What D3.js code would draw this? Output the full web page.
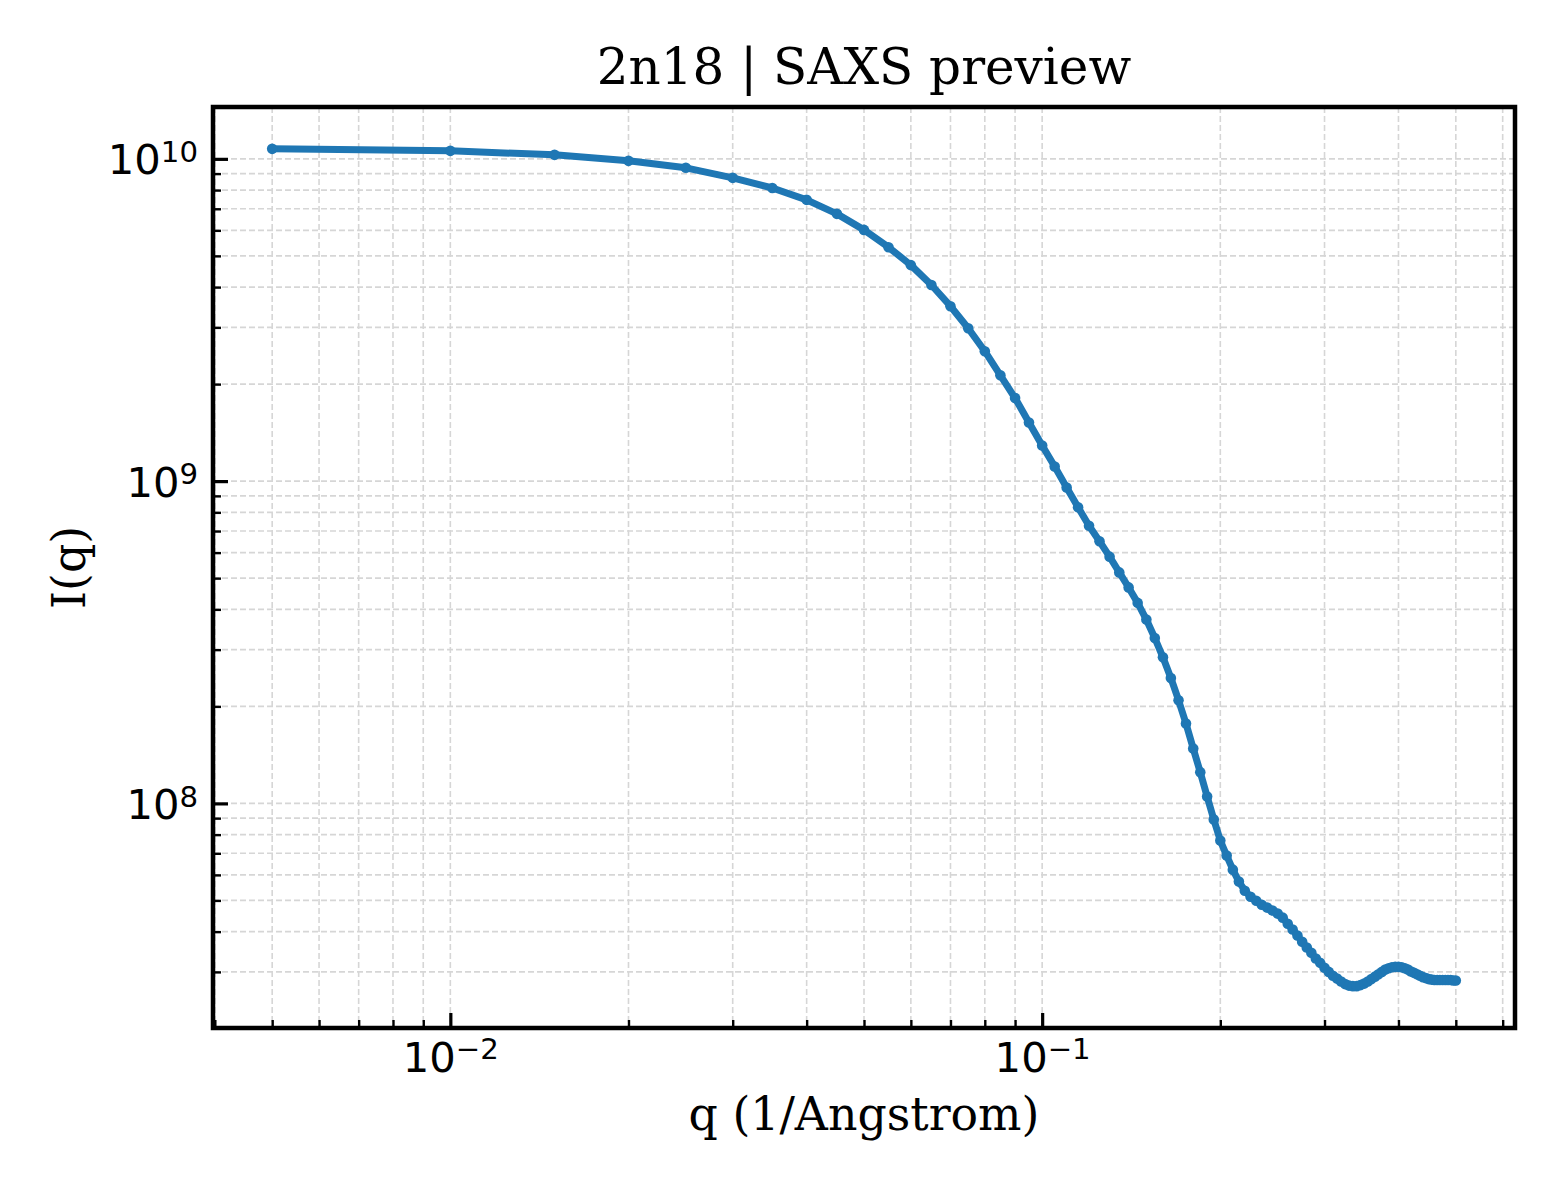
<!DOCTYPE html>
<html>
<head>
<meta charset="utf-8">
<script src="https://cdn.jsdelivr.net/npm/d3@7"></script>
<style>
  html, body { margin: 0; padding: 0; background: #fff; }
  svg { display: block; }
</style>
</head>
<body>
<svg id="chart"></svg>
<script>
// scattering vector (1/Angstrom)
const qValues = [
  0.005, 0.010, 0.015, 0.020, 0.025, 0.030, 0.035, 0.040, 0.045, 0.050,
  0.055, 0.060, 0.065, 0.070, 0.075, 0.080, 0.085, 0.090, 0.095, 0.100,
  0.105, 0.110, 0.115, 0.120, 0.125, 0.130, 0.135, 0.140, 0.145, 0.150,
  0.155, 0.160, 0.165, 0.170, 0.175, 0.180, 0.185, 0.190, 0.195, 0.200,
  0.205, 0.210, 0.215, 0.220, 0.225, 0.230, 0.235, 0.240, 0.245, 0.250,
  0.255, 0.260, 0.265, 0.270, 0.275, 0.280, 0.285, 0.290, 0.295, 0.300,
  0.305, 0.310, 0.315, 0.320, 0.325, 0.330, 0.335, 0.340, 0.345, 0.350,
  0.355, 0.360, 0.365, 0.370, 0.375, 0.380, 0.385, 0.390, 0.395, 0.400,
  0.405, 0.410, 0.415, 0.420, 0.425, 0.430, 0.435, 0.440, 0.445, 0.450,
  0.455, 0.460, 0.465, 0.470, 0.475, 0.480, 0.485, 0.490, 0.495, 0.500
];

// I(q)
const intensity = [
  1.074e10, 1.059e10, 1.029e10, 9.86e9, 9.38e9, 8.73e9, 8.12e9, 7.46e9, 6.75e9, 6.02e9,
  5.32e9, 4.68e9, 4.06e9, 3.49e9, 2.98e9, 2.53e9, 2.13e9, 1.81e9, 1.52e9, 1.29e9,
  1.11e9, 9.55e8, 8.30e8, 7.27e8, 6.51e8, 5.83e8, 5.21e8, 4.68e8, 4.19e8, 3.72e8,
  3.26e8, 2.84e8, 2.45e8, 2.09e8, 1.77e8, 1.48e8, 1.25e8, 1.05e8, 8.92e7, 7.67e7,
  6.89e7, 6.23e7, 5.72e7, 5.36e7, 5.13e7, 4.99e7, 4.85e7, 4.75e7, 4.65e7, 4.55e7,
  4.42e7, 4.23e7, 4.06e7, 3.89e7, 3.72e7, 3.57e7, 3.44e7, 3.30e7, 3.20e7, 3.09e7,
  3.00e7, 2.92e7, 2.86e7, 2.80e7, 2.75e7, 2.72e7, 2.71e7, 2.71e7, 2.73e7, 2.76e7,
  2.80e7, 2.85e7, 2.90e7, 2.95e7, 3.00e7, 3.05e7, 3.08e7, 3.10e7, 3.11e7, 3.11e7,
  3.10e7, 3.08e7, 3.05e7, 3.01e7, 2.98e7, 2.95e7, 2.92e7, 2.89e7, 2.87e7, 2.85e7,
  2.84e7, 2.83e7, 2.83e7, 2.83e7, 2.83e7, 2.83e7, 2.83e7, 2.83e7, 2.82e7, 2.82e7
];

const titleText = "2n18 | SAXS preview";
const xLabelText = "q (1/Angstrom)";
const yLabelText = "I(q)";

const xMajorTicks = [1e-2, 1e-1];
const yMajorTicks = [1e8, 1e9, 1e10];

const width = 1560, height = 1200;
const margin = { top: 107, right: 45, bottom: 172, left: 213 };
const innerW = width - margin.left - margin.right;
const innerH = height - margin.top - margin.bottom;

const serif = "'DejaVu Serif', 'Liberation Serif', serif";
const sans = "'DejaVu Sans', 'Liberation Sans', sans-serif";
const lineColor = "#1f77b4";

const data = qValues.map((q, i) => ({ q, I: intensity[i] }));

// matplotlib-style 5% padding in log space
function logPad(ext, frac = 0.05) {
  const a = Math.log10(ext[0]), b = Math.log10(ext[1]);
  const p = (b - a) * frac;
  return [Math.pow(10, a - p), Math.pow(10, b + p)];
}

const x = d3.scaleLog()
  .domain(logPad(d3.extent(qValues)))
  .range([0, innerW]);
const y = d3.scaleLog()
  .domain(logPad(d3.extent(intensity)))
  .range([innerH, 0]);

// minor ticks: 2..9 x 10^k inside the domain
function minorTicks(scale) {
  const [lo, hi] = scale.domain();
  const out = [];
  for (let e = Math.floor(Math.log10(lo)); e <= Math.ceil(Math.log10(hi)); e++) {
    for (let m = 2; m <= 9; m++) {
      const v = m * Math.pow(10, e);
      if (v >= lo && v <= hi) out.push(v);
    }
  }
  return out;
}
const xMinor = minorTicks(x);
const yMinor = minorTicks(y);

const svg = d3.select("#chart")
  .attr("width", width)
  .attr("height", height);

const g = svg.append("g")
  .attr("transform", `translate(${margin.left},${margin.top})`);

// grid (major + minor), dashed light grey
const grid = g.append("g")
  .attr("stroke", "#d6d6d6")
  .attr("stroke-width", 1.6)
  .attr("stroke-dasharray", "6,3");

grid.selectAll("line.vx")
  .data(xMajorTicks.concat(xMinor))
  .join("line")
    .attr("class", "vx")
    .attr("x1", d => x(d)).attr("x2", d => x(d))
    .attr("y1", 0).attr("y2", innerH);

grid.selectAll("line.hy")
  .data(yMajorTicks.concat(yMinor))
  .join("line")
    .attr("class", "hy")
    .attr("y1", d => y(d)).attr("y2", d => y(d))
    .attr("x1", 0).attr("x2", innerW);

// the curve
const line = d3.line()
  .x(d => x(d.q))
  .y(d => y(d.I));

g.append("path")
  .datum(data)
  .attr("fill", "none")
  .attr("stroke", lineColor)
  .attr("stroke-width", 7)
  .attr("stroke-linejoin", "round")
  .attr("stroke-linecap", "round")
  .attr("d", line);

g.append("g")
  .attr("fill", lineColor)
  .selectAll("circle")
  .data(data)
  .join("circle")
    .attr("cx", d => x(d.q))
    .attr("cy", d => y(d.I))
    .attr("r", 5.3);

// axes, ticks pointing inward
function supLabel(sel, v) {
  const e = Math.round(Math.log10(v));
  sel.text(null);
  sel.append("tspan").text("10");
  sel.append("tspan")
    .attr("dy", "-0.42em")
    .attr("font-size", "0.7em")
    .text(e < 0 ? "\u2212" + (-e) : String(e));
}

const xAxis = g.append("g")
  .attr("transform", `translate(0,${innerH})`)
  .call(d3.axisBottom(x).tickValues(xMajorTicks).tickSize(-15).tickPadding(14));
const xMinorAxis = g.append("g")
  .attr("transform", `translate(0,${innerH})`)
  .call(d3.axisBottom(x).tickValues(xMinor).tickSize(-8).tickFormat(""));

const yAxis = g.append("g")
  .call(d3.axisLeft(y).tickValues(yMajorTicks).tickSize(-15).tickPadding(15));
const yMinorAxis = g.append("g")
  .call(d3.axisLeft(y).tickValues(yMinor).tickSize(-8).tickFormat(""));

[xAxis, xMinorAxis, yAxis, yMinorAxis].forEach(ax => {
  ax.select(".domain").remove();
  ax.selectAll(".tick line").attr("stroke", "#000");
});
xAxis.selectAll(".tick line").attr("stroke-width", 3.2);
yAxis.selectAll(".tick line").attr("stroke-width", 3.2);
xMinorAxis.selectAll(".tick line").attr("stroke-width", 2.4);
yMinorAxis.selectAll(".tick line").attr("stroke-width", 2.4);

xAxis.selectAll(".tick text")
  .attr("font-family", sans)
  .attr("font-size", 41.7)
  .attr("fill", "#000")
  .attr("dy", "0.71em")
  .each(function (d) { supLabel(d3.select(this), d); });

yAxis.selectAll(".tick text")
  .attr("font-family", sans)
  .attr("font-size", 41.7)
  .attr("fill", "#000")
  .attr("dy", "0.36em")
  .each(function (d) { supLabel(d3.select(this), d); });

// frame
g.append("rect")
  .attr("width", innerW)
  .attr("height", innerH)
  .attr("fill", "none")
  .attr("stroke", "#000")
  .attr("stroke-width", 4.5);

// title and labels
svg.append("text")
  .attr("x", margin.left + innerW / 2)
  .attr("y", 84)
  .attr("text-anchor", "middle")
  .attr("font-family", serif)
  .attr("font-size", 50)
  .attr("fill", "#000")
  .text(titleText);

svg.append("text")
  .attr("x", margin.left + innerW / 2)
  .attr("y", 1130)
  .attr("text-anchor", "middle")
  .attr("font-family", serif)
  .attr("font-size", 45.8)
  .attr("fill", "#000")
  .text(xLabelText);

svg.append("text")
  .attr("transform", `translate(85,${margin.top + innerH / 2}) rotate(-90)`)
  .attr("text-anchor", "middle")
  .attr("font-family", serif)
  .attr("font-size", 45.8)
  .attr("fill", "#000")
  .text(yLabelText);
</script>
</body>
</html>
